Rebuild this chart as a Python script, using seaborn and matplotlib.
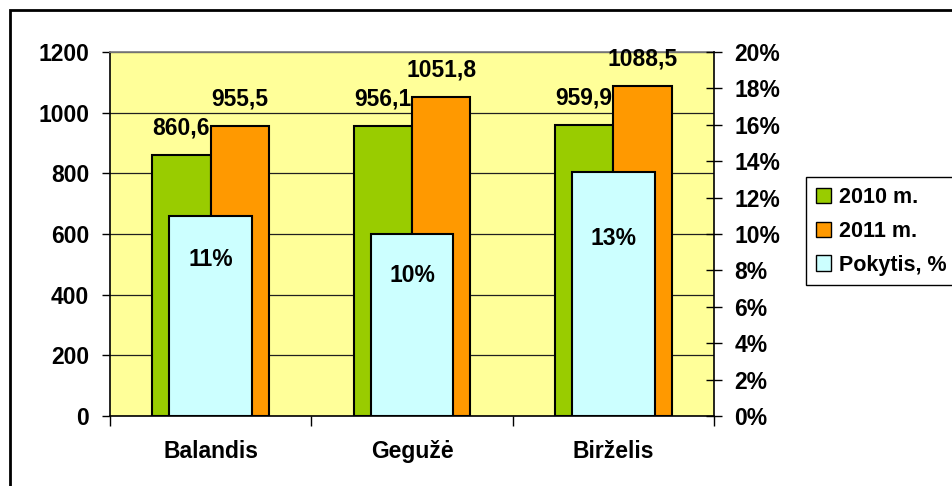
import pandas as pd
import matplotlib.pyplot as plt
import seaborn as sns
from matplotlib.patches import Patch, Rectangle

months = ["Balandis", "Gegužė", "Birželis"]
values_2010 = [860.6, 956.1, 959.9]
values_2011 = [955.5, 1051.8, 1088.5]
change_pct = [11.0, 10.0, 13.4]
series_names = ["2010 m.", "2011 m.", "Pokytis, %"]
left_ticks = [0, 200, 400, 600, 800, 1000, 1200]
right_ticks = [0, 2, 4, 6, 8, 10, 12, 14, 16, 18, 20]

colors = ["#99CC00", "#FF9900", "#CCFFFF"]

sns.set_theme(style="white")
plt.rcParams["font.family"] = ["Liberation Sans", "DejaVu Sans"]
plt.rcParams["font.weight"] = "bold"
plt.rcParams["text.color"] = "black"
plt.rcParams["xtick.color"] = "black"
plt.rcParams["ytick.color"] = "black"
plt.rcParams["xtick.labelcolor"] = "black"
plt.rcParams["ytick.labelcolor"] = "black"
FS = 16.5

df = pd.DataFrame({
    "month": months * 2,
    "year": [series_names[0]] * 3 + [series_names[1]] * 3,
    "value": values_2010 + values_2011,
})

fig = plt.figure(figsize=(9.53, 4.86), dpi=100)
ax = fig.add_axes([110 / 953, 70 / 486, 604 / 953, 364 / 486])
ax.set_facecolor("#FFFF99")

sns.barplot(data=df, x="month", y="value", hue="year", palette=colors[:2],
            width=0.58, gap=0, edgecolor="black", linewidth=1.5, saturation=1,
            errorbar=None, legend=False, ax=ax)

for cont, vals in zip(ax.containers, [values_2010, values_2011]):
    ax.bar_label(cont, labels=[f"{v:.1f}".replace(".", ",") for v in vals],
                 padding=11, fontsize=FS, fontweight="bold", color="black")

ax2 = ax.twinx()
sns.barplot(x=months, y=change_pct, color=colors[2], width=0.41,
            edgecolor="black", linewidth=1.5, saturation=1, errorbar=None, ax=ax2)

# inside labels for the change bars (placed by hand in the original)
offsets = [44, 42, 66]
for i, (v, off) in enumerate(zip(change_pct, offsets)):
    ax2.annotate(f"{v:.0f}%", xy=(i, v), xytext=(0, -off), textcoords="offset pixels",
                 ha="center", va="center", fontsize=FS, fontweight="bold", color="black")

ax.set_xlim(-0.5, 2.5)
ax.set_ylim(0, 1200)
ax2.set_ylim(0, 20)
ax.set_xlabel("")
ax.set_ylabel("")
ax2.set_ylabel("")

ax.set_xticks([-0.5, 0.5, 1.5, 2.5])
ax.set_xticklabels([])
ax.set_xticks([0, 1, 2], minor=True)
ax.set_xticklabels(months, minor=True, fontsize=FS, fontweight="bold")
ax.tick_params(axis="x", which="major", direction="out", length=7, width=1, color="black", bottom=True)
ax.tick_params(axis="x", which="minor", length=0, pad=17)

ax.set_yticks(left_ticks)
ax.set_yticklabels([str(t) for t in left_ticks], fontsize=FS, fontweight="bold")
ax.tick_params(axis="y", direction="out", length=6, width=1, color="black", left=True, pad=9)

ax2.set_yticks(right_ticks)
ax2.set_yticklabels([f"{t}%" for t in right_ticks], fontsize=FS, fontweight="bold")
ax2.tick_params(axis="y", direction="inout", length=11, width=1, color="black", right=True, pad=9)

ax.yaxis.grid(True, color="#202020", linewidth=0.9)
ax.set_axisbelow(True)

for name in ["left", "bottom"]:
    ax.spines[name].set_color("black")
    ax.spines[name].set_linewidth(1.2)
ax.spines["top"].set_color("#808080")
ax.spines["right"].set_visible(False)
for name in ["left", "top", "bottom"]:
    ax2.spines[name].set_visible(False)
ax2.spines["right"].set_color("black")
ax2.spines["right"].set_linewidth(1.2)

handles = [Patch(facecolor=c, edgecolor="black", linewidth=1) for c in colors]
leg = fig.legend(handles, series_names, loc="upper left",
                 bbox_to_anchor=(806 / 953, 1 - 177 / 486), frameon=True, fancybox=False,
                 edgecolor="black", framealpha=1, handlelength=0.7, handleheight=0.7,
                 handletextpad=0.4, labelspacing=0.6, borderpad=0.45, borderaxespad=0,
                 prop={"size": 15.5, "weight": "bold"})
leg.get_frame().set_linewidth(1)

fig.add_artist(Rectangle((10 / 953, -0.05), 1.0, 1 - 10 / 486 + 0.05,
                         transform=fig.transFigure, fill=False, edgecolor="black", linewidth=2))

fig.savefig("out.png", dpi=100)
